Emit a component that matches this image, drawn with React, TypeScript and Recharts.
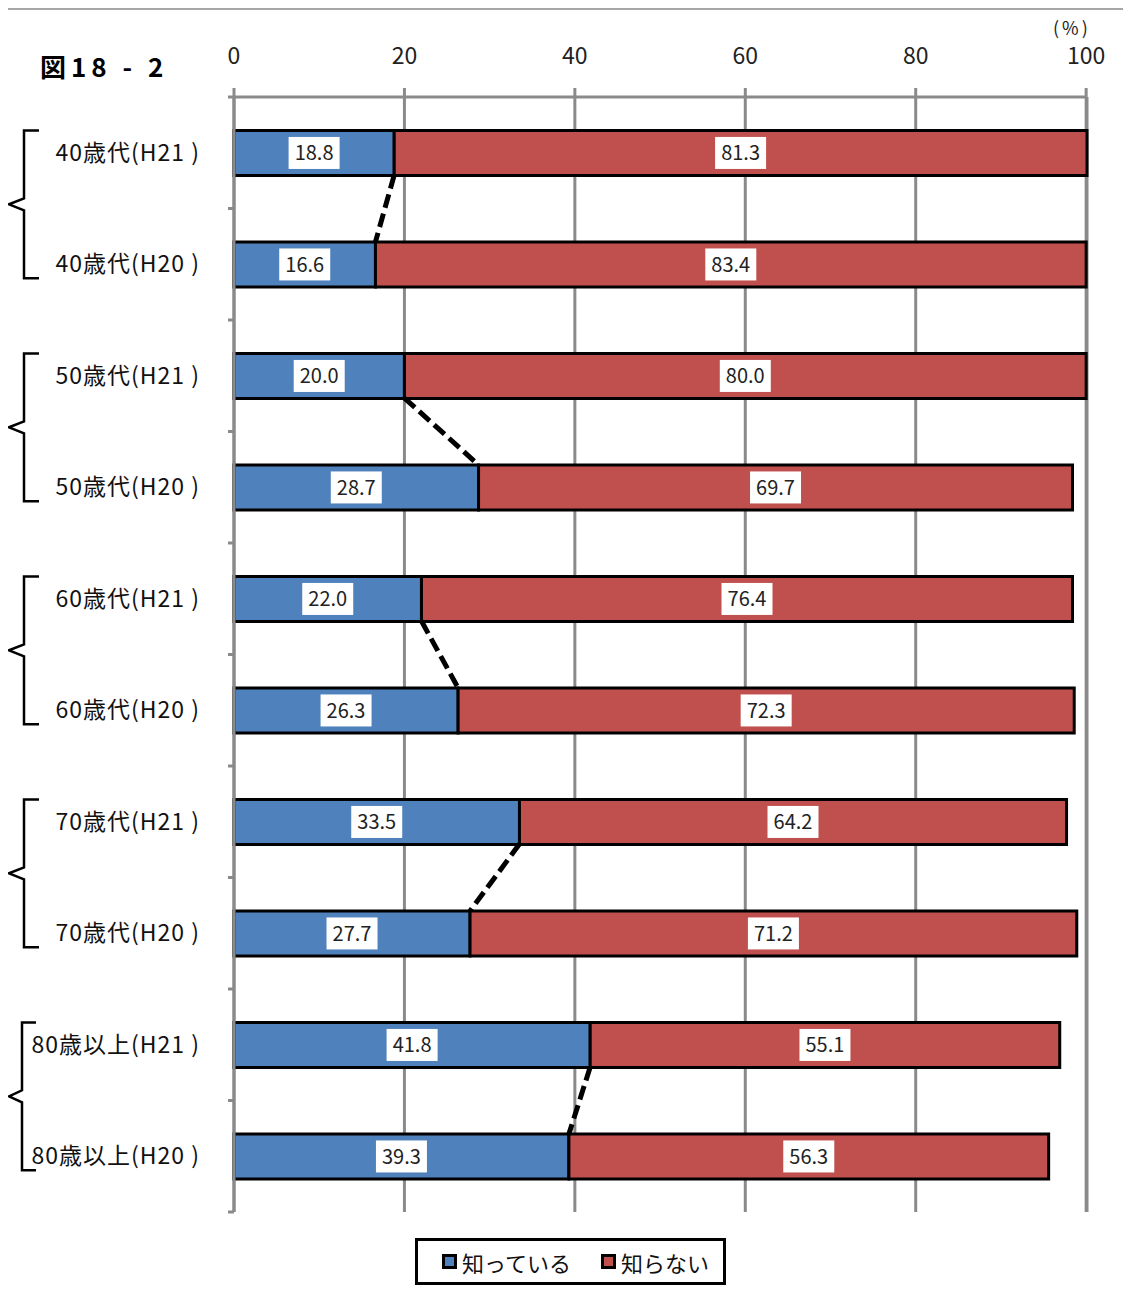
import { Bar, BarChart, CartesianGrid, LabelList, ReferenceLine, XAxis, YAxis } from "recharts"

const categories = [
    "40歳代(H21 )",
    "40歳代(H20 )",
    "50歳代(H21 )",
    "50歳代(H20 )",
    "60歳代(H21 )",
    "60歳代(H20 )",
    "70歳代(H21 )",
    "70歳代(H20 )",
    "80歳以上(H21 )",
    "80歳以上(H20 )",
]
const knowing = [18.8, 16.6, 20.0, 28.7, 22.0, 26.3, 33.5, 27.7, 41.8, 39.3]
const notKnowing = [81.3, 83.4, 80.0, 69.7, 76.4, 72.3, 64.2, 71.2, 55.1, 56.3]
const xTicks = [0, 20, 40, 60, 80, 100]
const seriesNames = ["知っている", "知らない"]
const seriesColors = ["#4f81bd", "#c0504d"]

const FONT = '"Noto Sans CJK JP", "Noto Sans", sans-serif'
const GRID = "#8a8a8a"
const GAP = 0.3 // barCategoryGap as a fraction of the band
const Y_TICK_SIZE = 6
const Y_TICK_MARGIN = 28

const data = categories.map((name, i) => ({ name, know: knowing[i], notKnow: notKnowing[i] }))

// each H21 bar is joined to the H20 bar below it at the end of the blue segment
const connectors = categories
    .map((_, i) => i)
    .filter((i) => i % 2 === 0)
    .map((i) => [
        { x: knowing[i], y: categories[i] },
        { x: knowing[i + 1], y: categories[i + 1] },
    ])

// the segment arrives centre to centre; trim it so it runs from the bottom edge
// of the upper bar to the top edge of the lower one
function ConnectorShape(props: any) {
    const { x1, y1, x2, y2 } = props
    const step = y2 - y1
    const halfBar = step * (0.5 - GAP)
    return (
        <line
            x1={x1}
            y1={y1 + halfBar}
            x2={x2}
            y2={y2 - halfBar}
            stroke="#000"
            strokeWidth={5}
            strokeDasharray="14 6"
        />
    )
}

function CategoryTick(props: any) {
    const { x, y, payload, index } = props
    const half = payload?.offset ?? 0
    const axisX = x + Y_TICK_SIZE + Y_TICK_MARGIN
    const last = index === categories.length - 1
    let brace = null
    if (index % 2 === 0) {
        const top = y - 0.4 * half
        const bottom = y + 2.25 * half
        const mid = (top + bottom) / 2
        const lx = index === 8 ? 14 : 16
        const hx = index === 8 ? 28 : 31
        brace = (
            <path
                d={`M${hx},${top} H${lx} V${mid - 6} L${1},${mid} L${lx},${mid + 6} V${bottom} H${hx}`}
                fill="none"
                stroke="#000"
                strokeWidth={2.5}
            />
        )
    }
    return (
        <g>
            <line x1={axisX - Y_TICK_SIZE} x2={axisX} y1={y - half} y2={y - half} stroke={GRID} strokeWidth={3} />
            {last && (
                <line x1={axisX - Y_TICK_SIZE} x2={axisX} y1={y + half} y2={y + half} stroke={GRID} strokeWidth={3} />
            )}
            {brace}
            <text
                x={x}
                y={y - 2}
                textAnchor="end"
                dominantBaseline="central"
                fontSize={23}
                letterSpacing={1}
                fill="#111"
                fontFamily={FONT}
            >
                {payload.value}
            </text>
        </g>
    )
}

function ValueBox(props: any) {
    const { x, y, width, height, value } = props
    const cx = x + width / 2
    const cy = y + height / 2
    return (
        <g>
            <rect x={cx - 25.5} y={cy - 16} width={51} height={32} fill="#fff" />
            <text x={cx} y={cy - 1} textAnchor="middle" dominantBaseline="central" fontSize={20} fill="#222" fontFamily={FONT}>
                {Number(value).toFixed(1)}
            </text>
        </g>
    )
}

export default function App() {
    return (
        <div style={{ position: "relative", width: 1123, height: 1288, fontFamily: FONT, background: "#fff" }}>
            <div
                style={{
                    position: "absolute",
                    left: -2,
                    top: 0,
                    width: 1125,
                    height: 1288,
                    borderTop: "2px solid #a6a6a6",
                    borderLeft: "2px solid #a6a6a6",
                    boxSizing: "border-box",
                }}
            />
            <div style={{ position: "absolute", left: 32, top: 39, fontSize: 26, fontWeight: 700, letterSpacing: 5, color: "#000" }}>
                図18 - 2
            </div>
            <div
                style={{
                    position: "absolute",
                    left: 1045,
                    top: 10,
                    fontSize: 18,
                    lineHeight: 1,
                    letterSpacing: 3,
                    color: "#222",
                }}
            >
                (%)
            </div>
            <BarChart
                width={1123}
                height={1288}
                data={data}
                layout="vertical"
                barCategoryGap={`${GAP * 100}%`}
                margin={{ top: 0, right: 44, bottom: 84, left: 0 }}
                style={{ position: "absolute", left: 0, top: 0 }}
            >
                <CartesianGrid horizontal={false} stroke={GRID} strokeWidth={3} />
                <XAxis
                    type="number"
                    orientation="top"
                    domain={[0, 100]}
                    ticks={xTicks}
                    height={89}
                    tickSize={9}
                    tickMargin={24}
                    axisLine={{ stroke: GRID, strokeWidth: 3 }}
                    tickLine={{ stroke: GRID, strokeWidth: 3 }}
                    tick={{ fill: "#222", fontSize: 23, fontFamily: FONT }}
                />
                <YAxis
                    type="category"
                    dataKey="name"
                    width={226}
                    interval={0}
                    tickSize={Y_TICK_SIZE}
                    tickMargin={Y_TICK_MARGIN}
                    tickLine={false}
                    axisLine={{ stroke: GRID, strokeWidth: 3 }}
                    tick={<CategoryTick />}
                />
                <Bar
                    dataKey="know"
                    name={seriesNames[0]}
                    stackId="s"
                    fill={seriesColors[0]}
                    stroke="#000"
                    strokeWidth={3}
                    isAnimationActive={false}
                >
                    <LabelList dataKey="know" content={<ValueBox />} />
                </Bar>
                <Bar
                    dataKey="notKnow"
                    name={seriesNames[1]}
                    stackId="s"
                    fill={seriesColors[1]}
                    stroke="#000"
                    strokeWidth={3}
                    isAnimationActive={false}
                >
                    <LabelList dataKey="notKnow" content={<ValueBox />} />
                </Bar>
                {connectors.map((seg, i) => (
                    <ReferenceLine key={i} segment={seg} ifOverflow="visible" shape={ConnectorShape} />
                ))}
            </BarChart>
            <div
                style={{
                    position: "absolute",
                    left: 407,
                    top: 1230,
                    width: 311,
                    height: 47,
                    border: "3px solid #000",
                    boxSizing: "border-box",
                    display: "flex",
                    alignItems: "center",
                    paddingLeft: 24,
                    fontSize: 22,
                    color: "#111",
                }}
            >
                {seriesNames.map((n, i) => (
                    <div key={n} style={{ display: "flex", alignItems: "center", marginRight: i === 0 ? 30 : 0 }}>
                        <span
                            style={{
                                display: "inline-block",
                                width: 15,
                                height: 15,
                                boxSizing: "border-box",
                                border: "3px solid #000",
                                background: seriesColors[i],
                                marginRight: 5,
                            }}
                        />
                        <span>{n}</span>
                    </div>
                ))}
            </div>
        </div>
    )
}
